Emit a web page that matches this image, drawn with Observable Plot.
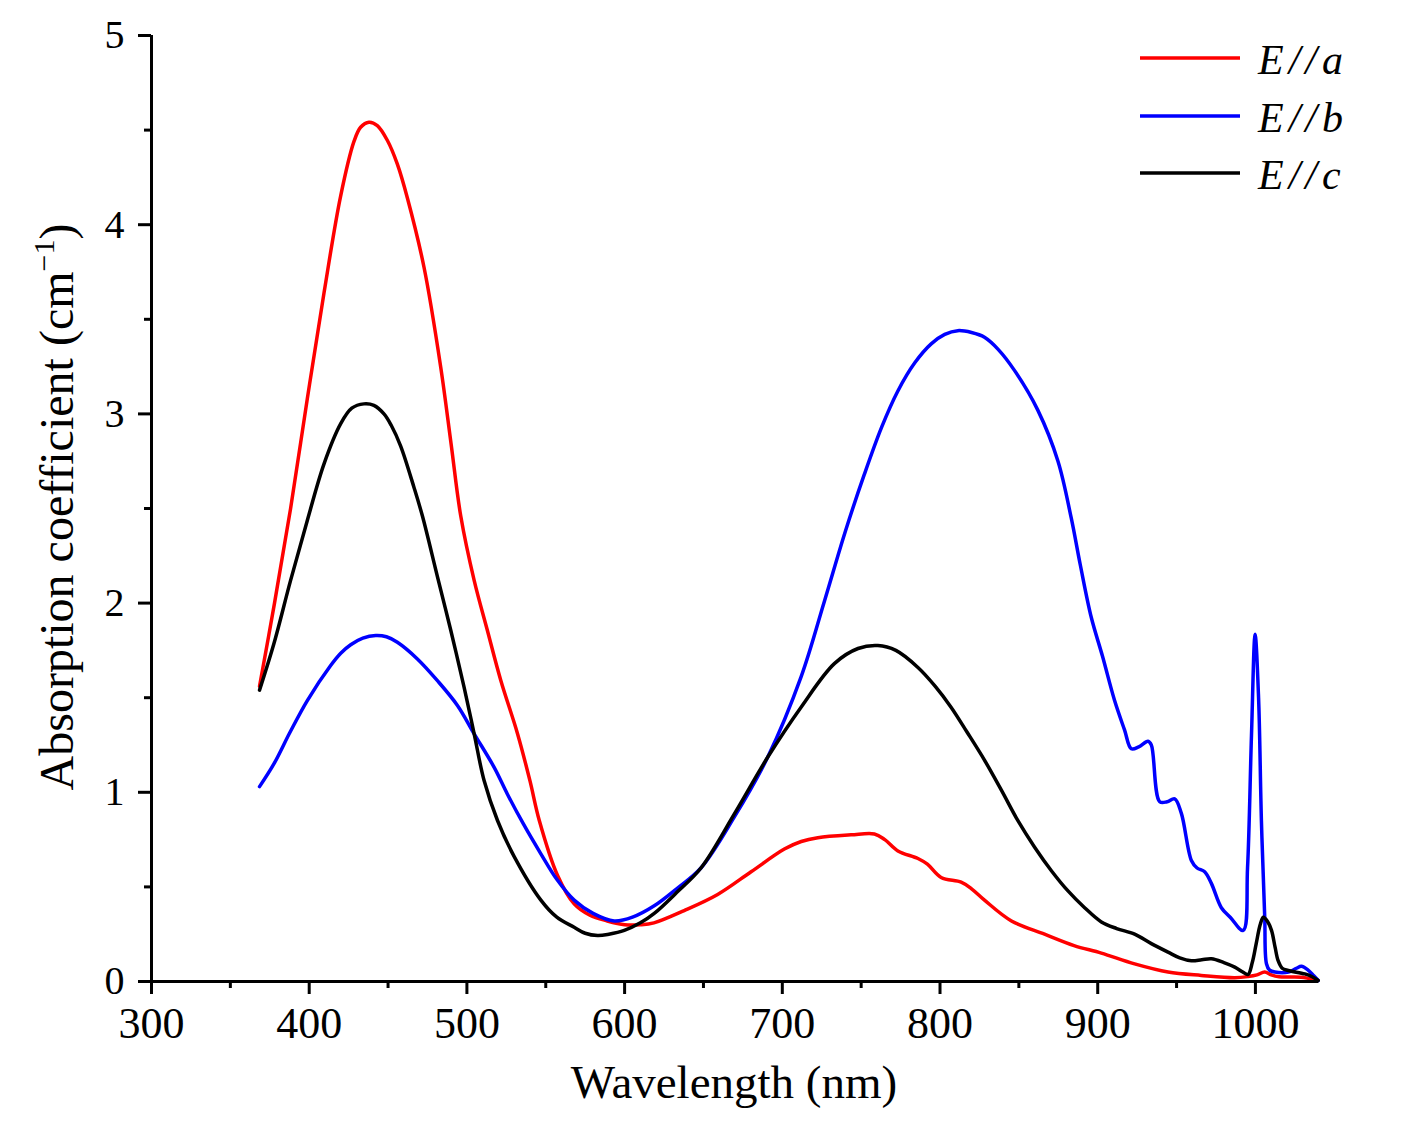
<!DOCTYPE html>
<html>
<head>
<meta charset="utf-8">
<script src="https://cdn.jsdelivr.net/npm/d3@7"></script>
<script src="https://cdn.jsdelivr.net/npm/@observablehq/plot@0.6"></script>
<style>
  html, body { margin: 0; padding: 0; background: #fff; }
  svg { display: block; }
</style>
</head>
<body>
<div id="chart"></div>
<script>
// ---- Data ----
const seriesNames = ["E//a", "E//b", "E//c"];
const seriesColors = ["#ff0000", "#0000ff", "#000000"];

const xTicks = [300, 400, 500, 600, 700, 800, 900, 1000];
const xMinorTicks = [350, 450, 550, 650, 750, 850, 950];
const yTicks = [0, 1, 2, 3, 4, 5];
const yMinorTicks = [0.5, 1.5, 2.5, 3.5, 4.5];

const aWavelength = [368.5,378,388.2,398.8,409.4,419.9,428.4,432.6,437.9,443.2,449.6,455.9,462.3,472.8,483.4,490,496.1,504.6,513,521.5,532.1,540,545.9,557.5,568,578,589,600,610,618.6,637.8,659,680.2,701.3,712,722.5,743.6,758.4,765,773.3,786,792,800.7,813.4,820,828.2,845.3,866.3,885,902.3,923.4,944.6,965.7,986.9,995.3,1001,1005.9,1010,1015,1029,1037.5];
const aValue = [1.56,2.0,2.5,3.08,3.64,4.15,4.44,4.515,4.542,4.524,4.445,4.32,4.14,3.775,3.247,2.84,2.46,2.12,1.855,1.591,1.31,1.06,0.851,0.56,0.41,0.35,0.32,0.30,0.30,0.31,0.375,0.46,0.58,0.70,0.74,0.76,0.775,0.78,0.75,0.69,0.65,0.62,0.55,0.525,0.49,0.43,0.32,0.25,0.19,0.15,0.093,0.05,0.032,0.02,0.026,0.035,0.05,0.035,0.025,0.023,0.01];

const bWavelength = [368.5,377.6,388,398.8,413.6,420,426.3,434,442.2,449,455.9,468.6,481.3,494,504.6,517.2,525.7,536,546.9,557,568,580,593.4,605,618.8,633,648.4,669.6,690.7,711.9,726.7,740,752,763,773.2,784,794.4,803,811.3,820,828.2,837,847.2,862,874.8,883.2,889,895.9,903,910.7,917,921.3,926,931.9,934,939.3,944,948.8,953,959.4,963,967.8,972,978.4,984,992.2,995,997.5,999.8,1002,1003.8,1005.9,1007,1009,1012.3,1021,1026,1029.2,1033.4,1037,1039.8];
const bValue = [1.03,1.15,1.32,1.485,1.67,1.735,1.78,1.815,1.829,1.822,1.793,1.705,1.59,1.459,1.309,1.133,0.99,0.83,0.675,0.54,0.43,0.36,0.32,0.34,0.40,0.49,0.60,0.87,1.185,1.61,2.01,2.38,2.68,2.93,3.12,3.27,3.37,3.42,3.44,3.43,3.405,3.34,3.23,3.02,2.75,2.45,2.2,1.925,1.72,1.485,1.33,1.23,1.24,1.27,1.25,0.95,0.95,0.965,0.89,0.64,0.6,0.58,0.52,0.39,0.34,0.27,0.6,1.3,1.835,1.5,0.85,0.34,0.094,0.06,0.05,0.05,0.07,0.08,0.06,0.03,0.005];

const cWavelength = [368.5,377.6,388.2,398.8,409.4,419.9,427,434.7,441,447.4,452,458,466.5,471.8,481.3,489.8,498.2,504.6,510.9,519.4,530,546.9,557,568,575,582.9,590,599.8,610,618.8,633,648.4,669.6,690.7,711.9,733,748,760.6,772,786,797,807,817,828.2,839,849.4,860,870.5,881,891.7,902.3,912,923.4,934,944.6,952,959.4,966,972.1,980,986.9,992,995.3,998,1000.5,1003,1005,1007.5,1010.2,1012.5,1014.4,1017,1020.8,1031.3,1036,1039.8];
const cValue = [1.54,1.785,2.12,2.437,2.736,2.947,3.03,3.053,3.045,3.0,2.94,2.83,2.61,2.46,2.14,1.855,1.556,1.309,1.062,0.851,0.66,0.43,0.34,0.287,0.255,0.243,0.25,0.27,0.31,0.36,0.47,0.60,0.886,1.185,1.45,1.68,1.76,1.776,1.75,1.66,1.56,1.45,1.32,1.17,1.01,0.85,0.71,0.587,0.48,0.39,0.315,0.28,0.25,0.20,0.155,0.125,0.11,0.115,0.12,0.10,0.076,0.05,0.037,0.10,0.2,0.30,0.34,0.32,0.27,0.18,0.11,0.07,0.058,0.04,0.025,0.005];

// ---- Build table ----
const rows = [];
[[aWavelength, aValue], [bWavelength, bValue], [cWavelength, cValue]].forEach(([xs, ys], i) => {
  xs.forEach((x, j) => rows.push({wavelength: x, value: ys[j], series: seriesNames[i]}));
});

const FONT = "Liberation Serif, Times New Roman, serif";

const chart = Plot.plot({
  width: 1401,
  height: 1123,
  marginLeft: 151,
  marginRight: 83,
  marginTop: 35,
  marginBottom: 142,
  style: {fontFamily: FONT, background: "#fff", color: "#000", overflow: "visible"},
  x: {domain: [300, 1040]},
  y: {domain: [0, 5]},
  color: {domain: seriesNames, range: seriesColors},
  marks: [
    Plot.axisX(xTicks, {tickSize: 13, tickPadding: 12, fontSize: 44, fontFamily: FONT, strokeWidth: 3, label: null, tickFormat: d => String(d)}),
    Plot.axisX(xMinorTicks, {tickSize: 7, text: null, strokeWidth: 3, label: null}),
    Plot.axisY(yTicks, {tickSize: 13, tickPadding: 14, fontSize: 40, fontFamily: FONT, strokeWidth: 3, label: null, tickFormat: d => String(d)}),
    Plot.axisY(yMinorTicks, {tickSize: 7, text: null, strokeWidth: 3, label: null}),
    Plot.line(rows, {x: "wavelength", y: "value", z: "series", stroke: "series", strokeWidth: 3.5, curve: "catmull-rom"}),
    Plot.ruleY([0], {strokeWidth: 3}),
    Plot.ruleX([300], {strokeWidth: 3})
  ]
});

document.getElementById("chart").appendChild(chart);

// ---- Axis titles and legend ----
const svg = d3.select(chart);

const yLab = svg.append("text")
  .attr("transform", "translate(73,507) rotate(-90)")
  .attr("text-anchor", "middle")
  .style("font-family", FONT)
  .style("font-size", "48px")
  .attr("fill", "#000");
yLab.append("tspan").text("Absorption coefficient (cm");
yLab.append("tspan").attr("dy", -19).style("font-size", "30px").text("\u22121");
yLab.append("tspan").attr("dy", 19).text(")");

svg.append("text")
  .attr("x", 734)
  .attr("y", 1098)
  .attr("text-anchor", "middle")
  .style("font-family", FONT)
  .style("font-size", "47px")
  .attr("fill", "#000")
  .text("Wavelength (nm)");

const legendY = [58, 116, 173];
seriesNames.forEach((name, i) => {
  svg.append("line")
    .attr("x1", 1140).attr("x2", 1240)
    .attr("y1", legendY[i]).attr("y2", legendY[i])
    .attr("stroke", seriesColors[i]).attr("stroke-width", 3.5);
  svg.append("text")
    .attr("x", 1258).attr("y", legendY[i] + 16)
    .attr("text-anchor", "start")
    .style("font-family", FONT)
    .style("font-style", "italic")
    .style("font-size", "42px")
    .attr("letter-spacing", 5)
    .attr("fill", "#000")
    .text(name);
});
</script>
</body>
</html>
